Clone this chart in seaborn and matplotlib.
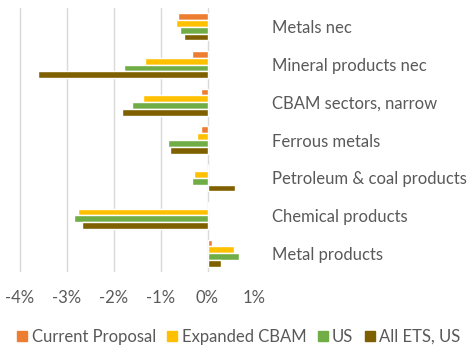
import matplotlib
matplotlib.use("Agg")
import matplotlib.pyplot as plt
import seaborn as sns
import pandas as pd
from matplotlib.lines import Line2D
from matplotlib.ticker import FuncFormatter

categories = ["Metals nec", "Mineral products nec", "CBAM sectors, narrow",
              "Ferrous metals", "Petroleum & coal products", "Chemical products",
              "Metal products"]
series = ["Current Proposal", "Expanded CBAM", "US", "All ETS, US"]
current_proposal = [-0.62, -0.34, -0.14, -0.14, 0.0, 0.04, 0.10]
expanded_cbam = [-0.68, -1.34, -1.37, -0.22, -0.28, -2.76, 0.57]
us = [-0.58, -1.78, -1.61, -0.85, -0.32, -2.85, 0.66]
all_ets_us = [-0.49, -3.61, -1.82, -0.79, 0.58, -2.68, 0.29]
xticks = [-4, -3, -2, -1, 0, 1]

colors = ["#ED7D31", "#FFC000", "#70AD47", "#7F6000"]

rows = []
for s, vals in zip(series, [current_proposal, expanded_cbam, us, all_ets_us]):
    for c, v in zip(categories, vals):
        rows.append({"category": c, "series": s, "value": v})
df = pd.DataFrame(rows)

sns.set_style("white")
plt.rcParams["font.family"] = ["Lato", "DejaVu Sans"]

fig = plt.figure(figsize=(4.77, 3.49), dpi=100)
ax = fig.add_axes([19.5 / 477, 1 - 272 / 349, 235 / 477, 264 / 349])

sns.barplot(data=df, x="value", y="category", hue="series", order=categories,
            hue_order=series, palette=colors, orient="h", width=0.72,
            saturation=1, ax=ax, legend=False, errorbar=None)

ax.set_xlim(-4, 1)
ax.set_ylim(len(categories) - 0.5, -0.5)
ax.set_xticks(xticks)
ax.xaxis.set_major_formatter(FuncFormatter(lambda v, p: f"{v:.0f}%"))
ax.grid(axis="x", color="#D9D9D9", linewidth=1.0)
ax.set_axisbelow(True)
for sp in ax.spines.values():
    sp.set_visible(False)
ax.yaxis.tick_right()
ax.tick_params(axis="y", length=0, pad=12.5, labelsize=12, labelcolor="#595959")
ax.tick_params(axis="x", length=0, pad=13, labelsize=12, labelcolor="#595959")
ax.set_xlabel("")
ax.set_ylabel("")

handles = [Line2D([0], [0], marker="s", linestyle="", markersize=7.5,
                  markerfacecolor=c, markeredgecolor=c) for c in colors]
fig.legend(handles, series, loc="center", bbox_to_anchor=(0.5, 1 - 337 / 349),
           ncol=4, frameon=False, fontsize=12, handlelength=0.7,
           handletextpad=0.2, columnspacing=0.65, labelcolor="#595959",
           borderpad=0, borderaxespad=0)

fig.savefig("out.png", dpi=100)
